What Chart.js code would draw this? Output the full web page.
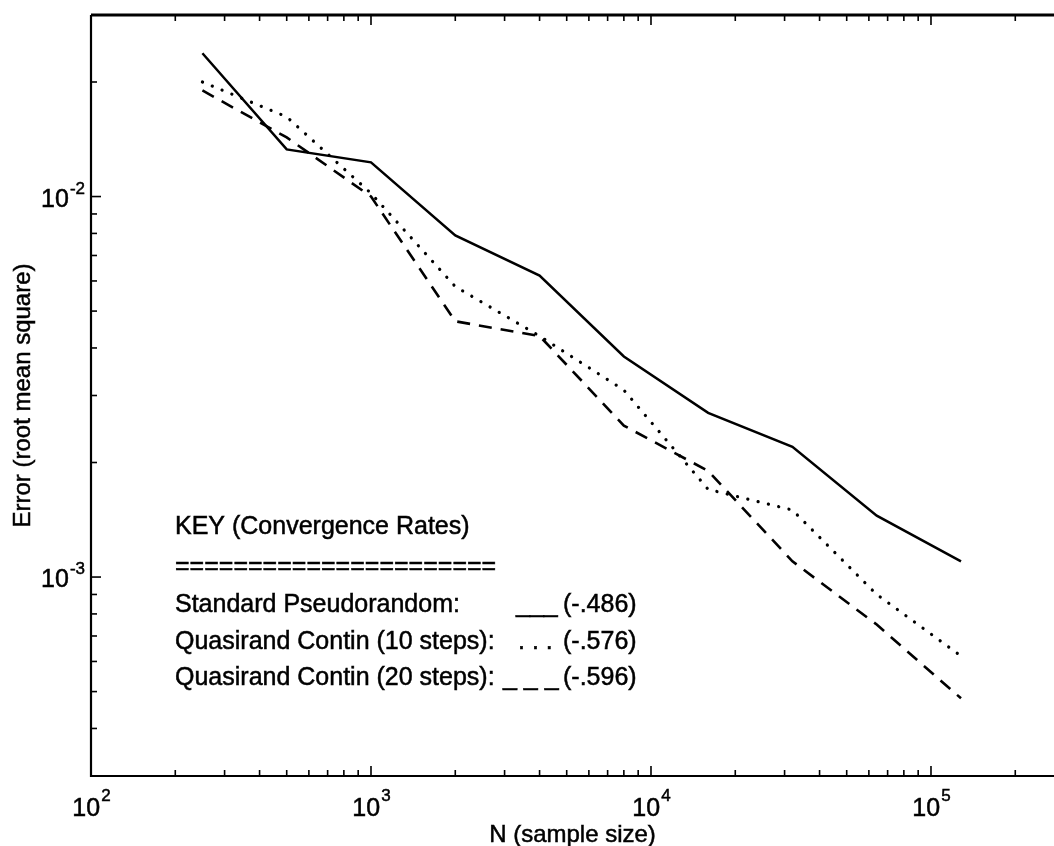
<!DOCTYPE html>
<html>
<head>
<meta charset="utf-8">
<script src="https://cdn.jsdelivr.net/npm/chart.js@4.4.1/dist/chart.umd.min.js"></script>
<style>
  body { margin: 0; background: #fff; }
  canvas { display: block; }
</style>
</head>
<body>
<canvas id="chart" width="1054" height="846"></canvas>
<script>
// data
let sampleSizes = [250, 500, 1000, 2000, 4000, 8000, 16000, 32000, 64000, 128000];
let pseudoErr   = [0.0238, 0.0133, 0.0123, 0.0079, 0.0062, 0.0038, 0.0027, 0.0022, 0.00145, 0.0011];
let contin10Err = [0.0200, 0.0162, 0.0102, 0.0058, 0.0043, 0.0031, 0.0017, 0.0015, 0.0009, 0.00062];
let contin20Err = [0.0190, 0.0143, 0.0100, 0.0047, 0.0043, 0.0025, 0.0019, 0.0011, 0.00075, 0.00048];

// axes
let xMajor = [1e2, 1e3, 1e4, 1e5];
let xMajorLabels = ["2", "3", "4", "5"];
let yMajor = [1e-3, 1e-2];
let yMajorLabels = ["-3", "-2"];

// key text
let keyTitle = "KEY (Convergence Rates)";
let keyRule = "======================";
let keyNames = ["Standard Pseudorandom:", "Quasirand Contin (10 steps):", "Quasirand Contin (20 steps):"];
let keySamples = ["___", ". . .", "_ _ _"];
let keyRates = ["(-.486)", "(-.576)", "(-.596)"];

const FONT = '"Liberation Sans", Arial, Helvetica, sans-serif';

function pts(ys) {
  return sampleSizes.map((n, i) => ({ x: n, y: ys[i] }));
}

// text with a thin outline, the scan looks a bit heavy
function txt(ctx, s, x, y) {
  ctx.fillText(s, x, y);
  ctx.lineWidth = 0.5;
  ctx.strokeText(s, x, y);
}

// 📐 IDL style box, ticks and labels
const idlAxes = {
  id: "idlAxes",
  afterDraw(chart) {
    let ctx = chart.ctx;
    let a = chart.chartArea;
    let xs = chart.scales.x;
    let ys = chart.scales.y;
    ctx.save();
    ctx.strokeStyle = "#000";
    ctx.fillStyle = "#000";

    // frame
    ctx.lineWidth = 2.2;
    ctx.beginPath();
    ctx.moveTo(a.left, a.top);
    ctx.lineTo(a.left, a.bottom);
    ctx.lineTo(a.right, a.bottom);
    ctx.stroke();
    ctx.lineWidth = 3;
    ctx.beginPath();
    ctx.moveTo(a.left, a.top);
    ctx.lineTo(a.right, a.top);
    ctx.stroke();

    // x ticks (bottom and top)
    ctx.lineWidth = 1.6;
    xMajor.forEach(d => {
      for (let k = 1; k <= 9; k++) {
        let v = k * d;
        if (v > xs.max) break;
        let px = xs.getPixelForValue(v);
        let len = k === 1 ? 10 : 6;
        ctx.beginPath();
        ctx.moveTo(px, a.bottom);
        ctx.lineTo(px, a.bottom - len);
        ctx.moveTo(px, a.top);
        ctx.lineTo(px, a.top + len);
        ctx.stroke();
      }
    });

    // y ticks (left)
    [1e-4, 1e-3, 1e-2].forEach(d => {
      for (let k = 1; k <= 9; k++) {
        let v = k * d;
        if (v < ys.min * 0.999 || v > ys.max * 1.001) continue;
        let py = ys.getPixelForValue(v);
        let len = k === 1 ? 10 : 6;
        ctx.beginPath();
        ctx.moveTo(a.left, py);
        ctx.lineTo(a.left + len, py);
        ctx.stroke();
      }
    });

    // x tick labels
    ctx.textBaseline = "alphabetic";
    ctx.textAlign = "left";
    xMajor.forEach((v, i) => {
      let px = xs.getPixelForValue(v);
      ctx.font = "25px " + FONT;
      let w1 = ctx.measureText("10").width;
      ctx.font = "17px " + FONT;
      let w2 = ctx.measureText(xMajorLabels[i]).width;
      let x0 = px - (w1 + w2) / 2;
      ctx.font = "25px " + FONT;
      txt(ctx, "10", x0, a.bottom + 40);
      ctx.font = "17px " + FONT;
      txt(ctx, xMajorLabels[i], x0 + w1 + 1, a.bottom + 25);
    });

    // y tick labels
    yMajor.forEach((v, i) => {
      let py = ys.getPixelForValue(v);
      ctx.font = "17px " + FONT;
      let w2 = ctx.measureText(yMajorLabels[i]).width;
      ctx.font = "25px " + FONT;
      let w1 = ctx.measureText("10").width;
      let xr = a.left - 6;
      txt(ctx, "10", xr - w2 - w1 - 1, py + 10);
      ctx.font = "17px " + FONT;
      txt(ctx, yMajorLabels[i], xr - w2, py - 3);
    });

    // axis titles
    ctx.font = "24px " + FONT;
    ctx.textAlign = "center";
    txt(ctx, "N (sample size)", (a.left + a.right) / 2, a.bottom + 66);
    ctx.save();
    ctx.translate(30, (a.top + a.bottom) / 2);
    ctx.rotate(-Math.PI / 2);
    txt(ctx, "Error (root mean square)", 0, 0);
    ctx.restore();

    // key
    ctx.font = "25px " + FONT;
    ctx.textAlign = "left";
    ctx.textBaseline = "middle";
    txt(ctx, keyTitle, 175, 527);
    txt(ctx, keyRule, 175, 567);
    let rowY = [605, 642, 678];
    let sampleX = [516, 518, 503];
    keyNames.forEach((name, i) => {
      txt(ctx, name, 175, rowY[i]);
      txt(ctx, keySamples[i], sampleX[i], rowY[i]);
      txt(ctx, keyRates[i], 563, rowY[i]);
    });

    ctx.restore();
  }
};

let chart = new Chart(document.getElementById("chart"), {
  type: "line",
  data: {
    datasets: [
      {
        label: "Standard Pseudorandom",
        data: pts(pseudoErr),
        borderColor: "#000",
        borderWidth: 2.5,
        pointRadius: 0
      },
      {
        label: "Quasirand Contin (10 steps)",
        data: pts(contin10Err),
        borderColor: "#000",
        borderWidth: 3.2,
        borderDash: [0.1, 10.5],
        borderCapStyle: "round",
        pointRadius: 0
      },
      {
        label: "Quasirand Contin (20 steps)",
        data: pts(contin20Err),
        borderColor: "#000",
        borderWidth: 2.6,
        borderDash: [13, 9],
        pointRadius: 0
      }
    ]
  },
  options: {
    responsive: false,
    animation: false,
    devicePixelRatio: 1,
    layout: { padding: { left: 91, top: 15, right: 0, bottom: 70 } },
    scales: {
      x: { type: "logarithmic", min: 100, max: 275000, display: false },
      y: { type: "logarithmic", min: 3e-4, max: 3e-2, display: false }
    },
    plugins: {
      legend: { display: false },
      tooltip: { enabled: false }
    }
  },
  plugins: [idlAxes]
});
</script>
</body>
</html>
